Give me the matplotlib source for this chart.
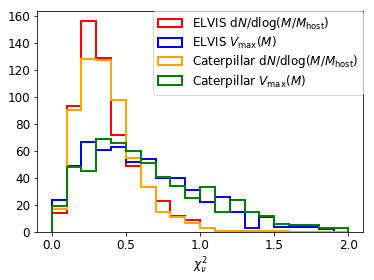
import numpy as np
import matplotlib.pyplot as plt

# bin edges: 20 bins of width 0.1 from 0 to 2
edges = np.linspace(0.0, 2.0, 21)
centres = 0.5 * (edges[:-1] + edges[1:])

# counts
elvis_dn = [14, 93, 156, 129, 72, 49, 33, 23, 12, 9, 3, 1, 1, 1, 0, 0, 0, 0, 0, 0]
elvis_vmax = [24, 49, 67, 61, 63, 52, 54, 40, 40, 31, 22, 26, 15, 3, 11, 4, 4, 4, 2, 0]
cat_dn = [17, 90, 128, 127, 98, 55, 33, 15, 11, 7, 3, 1, 1, 1, 1, 1, 0, 0, 0, 0]
cat_vmax = [19, 48, 45, 69, 66, 60, 51, 41, 34, 25, 33, 15, 24, 15, 12, 6, 5, 5, 3, 3]

labels = [r'ELVIS d$N$/dlog($M/M_{\rm host}$)',
          r'ELVIS $V_{\rm max}(M)$',
          r'Caterpillar d$N$/dlog($M/M_{\rm host}$)',
          r'Caterpillar $V_{\rm max}(M)$']
colors = ['red', 'blue', 'orange', 'green']

fig = plt.figure(figsize=(374 / 72, 280 / 72), dpi=72)
ax = fig.add_axes([0.099, 0.171, 0.872, 0.791])

for counts, lab, c in zip([elvis_dn, elvis_vmax, cat_dn, cat_vmax], labels, colors):
    ax.hist(centres, bins=edges, weights=counts, histtype='step',
            color=c, lw=2, label=lab)

ax.set_xticks([0.0, 0.5, 1.0, 1.5, 2.0])
ax.set_yticks(np.arange(0, 161, 20))
ax.tick_params(labelsize=12)
ax.set_xlabel(r'$\chi^2_\nu$', fontsize=12)
ax.legend(loc='upper right', fontsize=12, borderaxespad=0.0,
          labelspacing=0.2, borderpad=0.4, handletextpad=0.8)

fig.savefig('out.png', dpi=72)
